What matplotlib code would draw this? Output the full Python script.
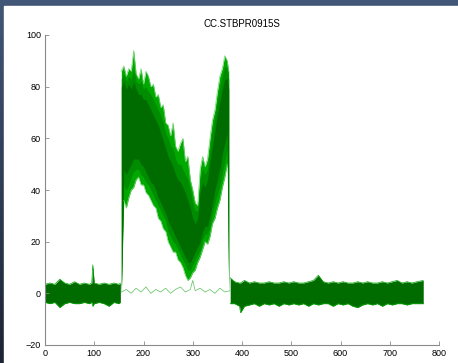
import numpy as np
import matplotlib
matplotlib.use('Agg')
import matplotlib.pyplot as plt
from matplotlib.patches import Rectangle

plt.rcParams['font.family'] = ['Liberation Sans', 'DejaVu Sans']

# sample positions of the read envelopes
pre_x = [0, 10, 20, 30, 40, 50, 60, 70, 80, 90, 95, 97, 100, 110, 120, 130, 140, 150, 153]
pre_hi = [3.5, 4, 3.5, 5.5, 4, 3.5, 4.5, 3.5, 4, 3.5, 4, 11, 4, 3.5, 4, 3.5, 4, 3.5, 4]
pre_lo = [-3.5, -4, -3.5, -5.5, -4, -3.5, -4, -4, -3.5, -4, -3.5, -5, -4, -3.5, -4, -5, -3.5, -4, -3.5]

act_x = [155, 160, 165, 170, 175, 180, 185, 190, 195, 200, 205, 210, 215, 220,
         225, 230, 235, 240, 245, 250, 255, 260, 265, 270, 275, 280, 285, 290,
         295, 300, 305, 310, 315, 320, 325, 330, 335, 340, 345, 350, 355, 360,
         365, 370, 373]
# outer envelope of all traces (light strands)
act_hi = [86, 88, 84, 87, 86, 94, 85, 83, 87, 81, 86, 84, 80, 81,
          76, 77, 72, 73, 66, 65, 61, 66, 57, 55, 58, 60, 51, 53,
          44, 40, 35, 34, 48, 53, 49, 52, 60, 67, 71, 78, 84, 87,
          92, 90, 86]
act_lo = [0, 36, 33, 37, 40, 41, 44, 45, 42, 42, 39, 38, 36, 34,
          33, 29, 28, 25, 24, 20, 18, 16, 16, 13, 12, 10, 7, 5,
          6, 8, 9, 12, 14, 17, 20, 19, 22, 27, 29, 33, 36, 41,
          45, 50, 0]
# region where most traces overlap
mid_hi = [83, 85, 82, 84, 83, 87, 82, 81, 82, 79, 80, 78, 77, 75,
          73, 71, 69, 66, 62, 60, 57, 56, 52, 50, 50, 48, 46, 44,
          40, 35, 32, 32, 44, 48, 46, 48, 56, 63, 68, 74, 80, 84,
          88, 87, 83]
mid_lo = [0, 42, 40, 42, 45, 47, 48, 48, 46, 45, 43, 42, 40, 38,
          36, 34, 32, 30, 28, 24, 22, 20, 19, 17, 15, 13, 11, 9,
          9, 11, 13, 15, 17, 21, 23, 23, 26, 31, 35, 38, 42, 47,
          51, 56, 0]
# dense core of the traces
core_hi = [80, 82, 79, 81, 79, 82, 79, 77, 77, 75, 75, 73, 71, 69,
           67, 65, 62, 59, 56, 53, 51, 49, 46, 44, 43, 41, 39, 36,
           33, 29, 27, 29, 39, 43, 41, 44, 51, 57, 63, 69, 74, 79,
           83, 83, 79]
core_lo = [0, 48, 46, 48, 50, 52, 52, 52, 50, 49, 47, 45, 43, 42,
           40, 37, 35, 33, 31, 28, 26, 24, 22, 20, 18, 16, 14, 12,
           12, 14, 16, 18, 20, 24, 26, 26, 30, 35, 40, 44, 48, 54,
           58, 62, 0]

post_x = [376, 385, 395, 397, 405, 415, 425, 435, 445, 455, 465, 475, 485, 495,
          505, 515, 525, 535, 545, 555, 565, 575, 585, 595, 605, 615, 625, 635,
          645, 655, 665, 675, 685, 695, 705, 715, 725, 735, 745, 755, 768]
post_hi = [6, 4.5, 4, 4, 5, 4, 4.5, 4, 4, 4.5, 4, 4, 4.5, 4,
           4.5, 4, 4, 4.5, 5, 7, 4.5, 4, 4.5, 4, 4.5, 4, 4, 4.5,
           4, 4.5, 4, 4, 4.5, 4, 4.5, 5, 4, 4.5, 4, 4.5, 5]
post_lo = [-4, -4, -5, -7.5, -5, -4.5, -4, -5, -4, -4.5, -4, -5, -4, -4.5,
           -4, -4.5, -4, -5, -4, -4.5, -4, -4, -5, -4, -4.5, -4, -5, -5.5,
           -4.5, -4, -4.5, -4, -5, -4, -4.5, -4, -4, -4.5, -4, -4, -4]

# single trace that stays flat through the active window
flat_x = [155, 165, 175, 185, 195, 205, 215, 225, 235, 245, 255, 265, 275, 285,
          295, 300, 305, 315, 325, 335, 345, 355, 365, 375]
flat_y = [0.5, 1.5, 0, 2, 0.5, 2.5, 0, 1.5, 0.5, 2, 0, 1.5, 2.5, 0.5,
          1.5, 5, 1, 2, 0.5, 1.5, 0, 2, 0.5, 1]

dark = '#006c00'
mid = '#008c00'
bright = '#00a800'
light = '#6fd86f'

fig = plt.figure(figsize=(4.58, 3.63), dpi=100)
# dark window background with a vertical gradient
bg = fig.add_axes([0, 0, 1, 1], zorder=-2)
bg.imshow(np.linspace(0, 1, 50).reshape(-1, 1), aspect='auto',
          cmap=matplotlib.colors.LinearSegmentedColormap.from_list('bg', ['#425677', '#1d2434']),
          extent=[0, 1, 0, 1])
bg.add_patch(Rectangle((4 / 458, 0), 1, 357 / 363, color='white'))
bg.set_xlim(0, 1)
bg.set_ylim(0, 1)
bg.axis('off')

ax = fig.add_axes([45 / 458, 18 / 363, 394 / 458, 310 / 363])
ax.set_facecolor('none')

for xs, hi, lo in [(pre_x, pre_hi, pre_lo), (post_x, post_hi, post_lo)]:
    ax.fill_between(xs, lo, hi, color=dark, lw=0)
    ax.plot(xs, hi, color=bright, lw=0.5)
    ax.plot(xs, lo, color=bright, lw=0.5)

ax.plot(flat_x, flat_y, color='#5cbf5c', lw=0.5)
ax.fill_between(act_x, act_lo, act_hi, color=bright, lw=0)
ax.fill_between(act_x, mid_lo, mid_hi, color=mid, lw=0)
ax.fill_between(act_x, core_lo, core_hi, color=dark, lw=0)
ax.plot(act_x, act_hi, color=light, lw=0.5)
ax.plot(act_x[1:-1], act_lo[1:-1], color=light, lw=0.5)

ax.set_xlim(0, 800)
ax.set_ylim(-20, 100)
ax.set_xticks(range(0, 801, 100))
ax.set_yticks(range(-20, 101, 20))
ax.spines['top'].set_visible(False)
ax.spines['right'].set_visible(False)
for s in ['left', 'bottom']:
    ax.spines[s].set_color('#8a8a8a')
    ax.spines[s].set_linewidth(0.8)
ax.tick_params(direction='in', length=3, width=0.6, color='#8a8a8a',
               labelsize=6.5, pad=3)
ax.set_title('CC.STBPR0915S', fontsize=7, pad=6)

fig.savefig('out.png', dpi=100)
